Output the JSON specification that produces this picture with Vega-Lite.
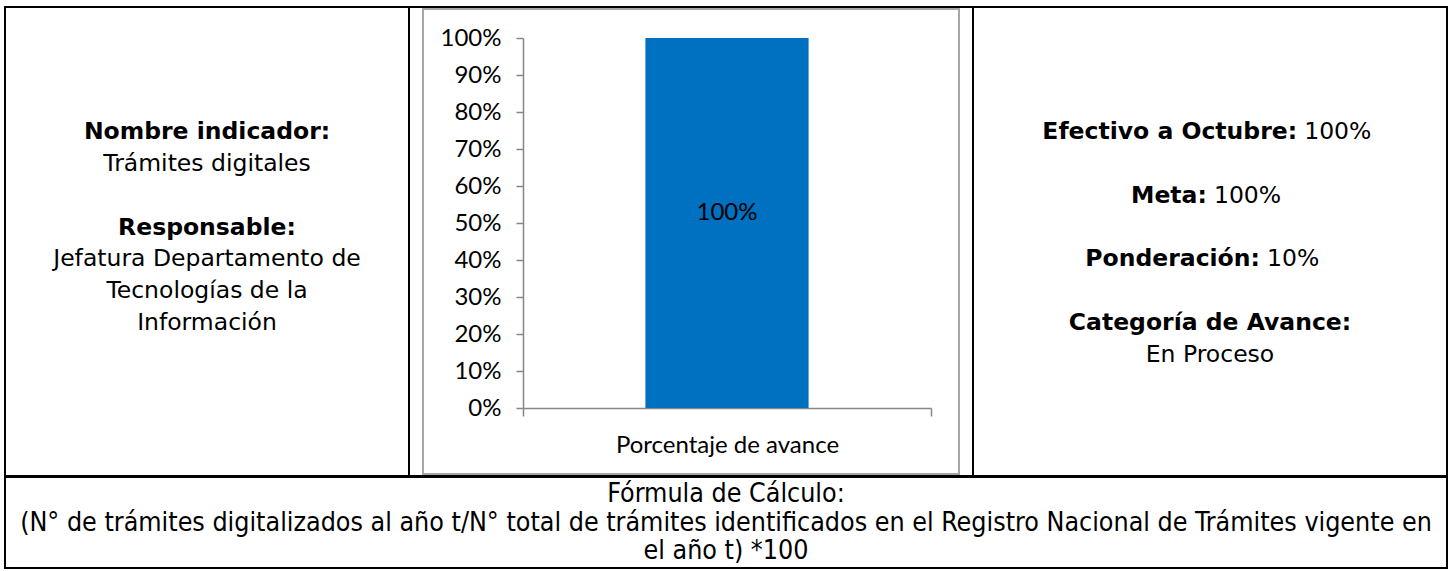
{
  "$schema": "https://vega.github.io/schema/vega-lite/v6.json",
  "background": "white",
  "padding": {"left": 4, "top": 6, "right": 4, "bottom": 4},
  "spacing": -2,
  "vconcat": [
    {
      "spacing": 0,
      "bounds": "flush",
      "hconcat": [
        {
          "width": 404,
          "height": 469,
          "data": {"values": [
            {"line": 1, "text": "Nombre indicador:", "weight": "bold"},
            {"line": 2, "text": "Trámites digitales", "weight": "normal"},
            {"line": 4, "text": "Responsable:", "weight": "bold"},
            {"line": 5, "text": "Jefatura Departamento de", "weight": "normal"},
            {"line": 6, "text": "Tecnologías de la", "weight": "normal"},
            {"line": 7, "text": "Información", "weight": "normal"}
          ]},
          "encoding": {
            "x": {"datum": 0, "type": "quantitative", "scale": {"domain": [-1, 1]}, "axis": null},
            "y": {"field": "line", "type": "quantitative", "scale": {"domain": [-2.83, 11.83], "reverse": true, "zero": false, "nice": false}, "axis": null},
            "text": {"field": "text"}
          },
          "layer": [
            {"transform": [{"filter": "datum.weight === 'bold'"}], "mark": {"type": "text", "font": "DejaVu Sans", "fontSize": 23.5, "fontWeight": "bold", "color": "#000", "dy": 2}},
            {"transform": [{"filter": "datum.weight === 'normal'"}], "mark": {"type": "text", "font": "DejaVu Sans", "fontSize": 23.5, "color": "#000", "dy": 2}}
          ]
        },
        {
          "width": 564,
          "height": 469,
          "layer": [
            {
              "data": {"values": [{"marco": "grafico"}]},
              "mark": {"type": "rect", "filled": false, "stroke": "#A6A6A6", "strokeWidth": 2},
              "encoding": {
                "x": {"datum": 0, "type": "quantitative", "scale": {"domain": [0, 1], "range": [14, 550]}, "axis": null},
                "x2": {"datum": 1},
                "y": {"datum": 0, "type": "quantitative", "scale": {"domain": [0, 1], "range": [2, 467]}, "axis": null},
                "y2": {"datum": 1}
              }
            },
            {
              "data": {"values": [{"indicador": "Porcentaje de avance", "valor": 1.0}]},
              "encoding": {
                "x": {
                  "field": "indicador", "type": "nominal",
                  "scale": {"type": "band", "range": [114, 522], "paddingInner": 0, "paddingOuter": 0},
                  "axis": {"title": null, "orient": "bottom", "offset": -68, "tickBand": "extent", "tickSize": 8, "tickWidth": 1.5, "tickColor": "#868686", "domainColor": "#868686", "domainWidth": 1.5, "labelFont": "Lato", "labelFontSize": 24, "labelColor": "#000", "labelPadding": 17, "labelAngle": 0, "labelLimit": 500, "grid": false}
                },
                "y": {
                  "field": "valor", "type": "quantitative",
                  "scale": {"domain": [0, 1], "range": [401, 31]},
                  "axis": {"title": null, "orient": "left", "offset": -114, "format": ".0%", "values": [0, 0.1, 0.2, 0.3, 0.4, 0.5, 0.6, 0.7, 0.8, 0.9, 1.0], "tickSize": 7, "tickWidth": 1.5, "tickColor": "#868686", "domainColor": "#868686", "domainWidth": 1.5, "labelFont": "Lato", "labelFontSize": 24, "labelColor": "#000", "labelPadding": 15, "grid": false}
                }
              },
              "layer": [
                {"mark": {"type": "bar", "color": "#0070C0", "width": {"band": 0.4}}},
                {
                  "transform": [{"calculate": "datum.valor / 2", "as": "centro"}],
                  "mark": {"type": "text", "font": "Lato", "fontSize": 24, "color": "#000", "dy": -10},
                  "encoding": {
                    "y": {"field": "centro", "type": "quantitative"},
                    "text": {"field": "valor", "type": "quantitative", "format": ".0%"}
                  }
                }
              ]
            }
          ],
          "resolve": {"scale": {"x": "independent", "y": "independent"}, "axis": {"x": "independent", "y": "independent"}}
        },
        {
          "width": 474,
          "height": 469,
          "data": {"values": [
            {"line": 1, "label": "Efectivo a Octubre:", "value": "100%"},
            {"line": 3, "label": "Meta:", "value": "100%"},
            {"line": 5, "label": "Ponderación:", "value": "10%"},
            {"line": 7, "label": "Categoría de Avance:", "value": ""},
            {"line": 8, "label": "", "value": "En Proceso"}
          ]},
          "encoding": {
            "y": {"field": "line", "type": "quantitative", "scale": {"domain": [-2.83, 11.83], "reverse": true, "zero": false, "nice": false}, "axis": null}
          },
          "layer": [
            {
              "transform": [{"filter": "datum.label !== '' && datum.value === ''"}],
              "mark": {"type": "text", "font": "DejaVu Sans", "fontSize": 23.5, "fontWeight": "bold", "color": "#000", "dy": 2},
              "encoding": {
                "x": {"datum": 0, "type": "quantitative", "scale": {"domain": [-237, 237]}, "axis": null},
                "text": {"field": "label"}
              }
            },
            {
              "transform": [{"filter": "datum.label === '' && datum.value !== ''"}],
              "mark": {"type": "text", "font": "DejaVu Sans", "fontSize": 23.5, "color": "#000", "dy": 2},
              "encoding": {
                "x": {"datum": 0, "type": "quantitative"},
                "text": {"field": "value"}
              }
            },
            {
              "transform": [
                {"filter": "datum.label !== '' && datum.value !== ''"},
                {"calculate": "(length(datum.label) * 13.6 - 7.5 - length(datum.value) * 16.8) / 2", "as": "finEtiqueta"}
              ],
              "mark": {"type": "text", "font": "DejaVu Sans", "fontSize": 23.5, "fontWeight": "bold", "color": "#000", "align": "right", "dy": 2},
              "encoding": {
                "x": {"field": "finEtiqueta", "type": "quantitative"},
                "text": {"field": "label"}
              }
            },
            {
              "transform": [
                {"filter": "datum.label !== '' && datum.value !== ''"},
                {"calculate": "(length(datum.label) * 13.6 + 7.5 - length(datum.value) * 16.8) / 2", "as": "inicioValor"}
              ],
              "mark": {"type": "text", "font": "DejaVu Sans", "fontSize": 23.5, "color": "#000", "align": "left", "dy": 2},
              "encoding": {
                "x": {"field": "inicioValor", "type": "quantitative"},
                "text": {"field": "value"}
              }
            }
          ]
        }
      ]
    },
    {
      "width": 1442,
      "height": 91,
      "data": {"values": [
        {"line": 1, "text": "Fórmula de Cálculo:"},
        {"line": 2, "text": "(N° de trámites digitalizados al año t/N° total de trámites identificados en el Registro Nacional de Trámites vigente en"},
        {"line": 3, "text": "el año t) *100"}
      ]},
      "mark": {"type": "text", "font": "DejaVu Sans Condensed", "fontSize": 26.6, "color": "#000"},
      "encoding": {
        "x": {"datum": 0, "type": "quantitative", "scale": {"domain": [-1, 1]}, "axis": null},
        "y": {"field": "line", "type": "quantitative", "scale": {"domain": [0.431, 3.569], "reverse": true, "zero": false, "nice": false}, "axis": null},
        "text": {"field": "text"}
      }
    }
  ],
  "config": {
    "view": {"stroke": "#000", "strokeWidth": 2},
    "concat": {"spacing": 0}
  }
}
